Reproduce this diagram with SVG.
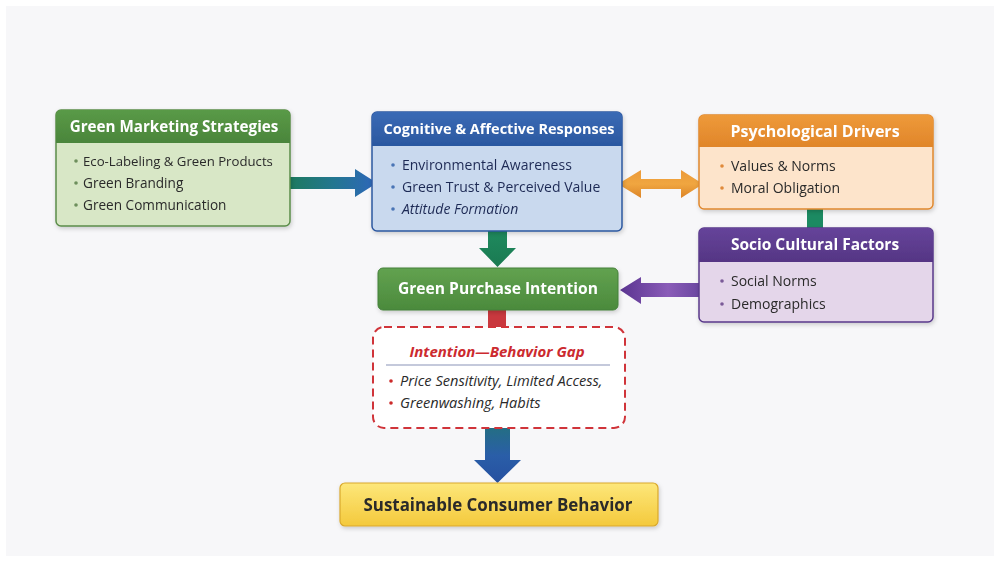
<svg xmlns="http://www.w3.org/2000/svg" width="1000" height="562" viewBox="0 0 1000 562">
  <defs>
    <style>
      .title { font-family: "Open Sans", "Noto Sans", sans-serif; font-weight: 700; font-size: 15px; fill: #ffffff; text-anchor: middle; }
      .item { font-family: "Open Sans", "Noto Sans", sans-serif; font-size: 14px; }
      .dark { fill: #2a2a2a; }
      .navy { fill: #1e2a55; }
      .dot-green { fill: #6d8f5c; }
      .dot-blue { fill: #4a74b5; }
      .dot-orange { fill: #e08a3a; }
      .dot-purple { fill: #7a5a98; }
      .dot-red { fill: #cc2a2a; }
    </style>
    <filter id="shadow" x="-10%" y="-10%" width="120%" height="130%">
      <feDropShadow dx="1" dy="2" stdDeviation="2" flood-color="#000000" flood-opacity="0.18"/>
    </filter>
    <linearGradient id="gHeadGreen" x1="0" y1="0" x2="0" y2="1">
      <stop offset="0" stop-color="#5a9a47"/>
      <stop offset="1" stop-color="#4a853b"/>
    </linearGradient>
    <linearGradient id="gHeadBlue" x1="0" y1="0" x2="0" y2="1">
      <stop offset="0" stop-color="#3a6ab5"/>
      <stop offset="1" stop-color="#2b58a0"/>
    </linearGradient>
    <linearGradient id="gHeadOrange" x1="0" y1="0" x2="0" y2="1">
      <stop offset="0" stop-color="#ee9a3a"/>
      <stop offset="1" stop-color="#e0852a"/>
    </linearGradient>
    <linearGradient id="gHeadPurple" x1="0" y1="0" x2="0" y2="1">
      <stop offset="0" stop-color="#66449a"/>
      <stop offset="1" stop-color="#553584"/>
    </linearGradient>
    <linearGradient id="gPurchase" x1="0" y1="0" x2="0" y2="1">
      <stop offset="0" stop-color="#62a250"/>
      <stop offset="1" stop-color="#4b8a3c"/>
    </linearGradient>
    <linearGradient id="gYellow" x1="0" y1="0" x2="0" y2="1">
      <stop offset="0" stop-color="#fde77a"/>
      <stop offset="1" stop-color="#f4c93c"/>
    </linearGradient>
    <linearGradient id="gArrowTealBlue" x1="290" y1="0" x2="377" y2="0" gradientUnits="userSpaceOnUse">
      <stop offset="0" stop-color="#1d7a5f"/>
      <stop offset="0.5" stop-color="#237690"/>
      <stop offset="1" stop-color="#2e66bb"/>
    </linearGradient>
    <linearGradient id="gArrowOrange" x1="0" y1="170" x2="0" y2="198" gradientUnits="userSpaceOnUse">
      <stop offset="0" stop-color="#ec9a3a"/>
      <stop offset="0.5" stop-color="#f0a640"/>
      <stop offset="1" stop-color="#dc8428"/>
    </linearGradient>
    <linearGradient id="gArrowPurple" x1="620" y1="0" x2="700" y2="0" gradientUnits="userSpaceOnUse">
      <stop offset="0" stop-color="#5a3490"/>
      <stop offset="0.6" stop-color="#8a5cb8"/>
      <stop offset="1" stop-color="#6a46a0"/>
    </linearGradient>
    <linearGradient id="gArrowGreen" x1="0" y1="230" x2="0" y2="267" gradientUnits="userSpaceOnUse">
      <stop offset="0" stop-color="#1f8a5e"/>
      <stop offset="1" stop-color="#1a7a52"/>
    </linearGradient>
    <linearGradient id="gArrowBlueDown" x1="0" y1="428" x2="0" y2="483" gradientUnits="userSpaceOnUse">
      <stop offset="0" stop-color="#246e84"/>
      <stop offset="0.5" stop-color="#2a5ea8"/>
      <stop offset="1" stop-color="#2650a0"/>
    </linearGradient>
  </defs>

  <!-- page background -->
  <rect x="0" y="0" width="1000" height="562" fill="#ffffff"/>
  <rect x="6" y="6" width="988" height="550" fill="#f7f7f9"/>

  <!-- connectors -->
  <g id="connectors">
    <!-- strategies to responses -->
    <path d="M290,177 H355 V169 L377,183 L355,197 V189 H290 Z" fill="url(#gArrowTealBlue)"/>
    <!-- responses <-> psychological drivers -->
    <path d="M618,184 L641,170 V179 H681 V170 L703,184 L681,198 V189 H641 V198 Z" fill="url(#gArrowOrange)"/>
    <!-- responses to purchase intention -->
    <path d="M488,230 H507 V248 H516 L497.5,267 L479,248 H488 Z" fill="url(#gArrowGreen)"/>
    <!-- socio cultural factors to purchase intention -->
    <path d="M700,283 H641 V277 L620,290 L641,304 V297 H700 Z" fill="url(#gArrowPurple)"/>
    <!-- drivers to socio cultural factors -->
    <rect x="807" y="208" width="16" height="20" fill="#1c8a62"/>
    <!-- purchase intention to gap -->
    <rect x="488" y="310" width="18" height="23" fill="#c9383e"/>
    <!-- gap to sustainable behavior -->
    <path d="M485,428 H510 V460 H521 L497.5,483 L474,460 H485 Z" fill="url(#gArrowBlueDown)"/>
  </g>

  <!-- Green Marketing Strategies -->
  <g id="green-marketing" filter="url(#shadow)">
    <rect x="56" y="110" width="234" height="116" rx="5" fill="#d8e7c6" stroke="#5b8d49" stroke-width="1.5"/>
    <path d="M61,110 H285 A5,5 0 0 1 290,115 V143 H56 V115 A5,5 0 0 1 61,110 Z" fill="url(#gHeadGreen)"/>
    <text class="title" x="174" y="132" style="font-size:15.2px">Green Marketing Strategies</text>
    <circle class="dot-green" cx="76" cy="161" r="1.8"/>
    <circle class="dot-green" cx="76" cy="183" r="1.8"/>
    <circle class="dot-green" cx="76" cy="205" r="1.8"/>
    <text class="item dark" x="83" y="166" style="font-size:13.2px">Eco-Labeling &amp; Green Products</text>
    <text class="item dark" x="83" y="188" style="font-size:13.6px">Green Branding</text>
    <text class="item dark" x="83" y="210" style="font-size:13.6px">Green Communication</text>
  </g>

  <!-- Cognitive & Affective Responses -->
  <g id="cognitive-affective" filter="url(#shadow)">
    <rect x="372" y="112" width="250" height="119" rx="5" fill="#c9d9ee" stroke="#2d58a0" stroke-width="1.5"/>
    <path d="M377,112 H617 A5,5 0 0 1 622,117 V146 H372 V117 A5,5 0 0 1 377,112 Z" fill="url(#gHeadBlue)"/>
    <text class="title" x="499" y="134" style="font-size:14.5px">Cognitive &amp; Affective Responses</text>
    <circle class="dot-blue" cx="393" cy="165" r="1.8"/>
    <circle class="dot-blue" cx="393" cy="187" r="1.8"/>
    <circle class="dot-blue" cx="393" cy="209" r="1.8"/>
    <text class="item navy" x="402" y="170">Environmental Awareness</text>
    <text class="item navy" x="402" y="192">Green Trust &amp; Perceived Value</text>
    <text class="item navy" x="402" y="214" font-style="italic">Attitude Formation</text>
  </g>

  <!-- Psychological Drivers -->
  <g id="psychological-drivers" filter="url(#shadow)">
    <rect x="699" y="115" width="234" height="94" rx="5" fill="#fde4cb" stroke="#e0882e" stroke-width="1.5"/>
    <path d="M704,115 H928 A5,5 0 0 1 933,120 V147 H699 V120 A5,5 0 0 1 704,115 Z" fill="url(#gHeadOrange)"/>
    <text class="title" x="815" y="137" style="font-size:16px">Psychological Drivers</text>
    <circle class="dot-orange" cx="722" cy="166" r="1.8"/>
    <circle class="dot-orange" cx="722" cy="188" r="1.8"/>
    <text class="item dark" x="731" y="171">Values &amp; Norms</text>
    <text class="item dark" x="731" y="193">Moral Obligation</text>
  </g>

  <!-- Socio Cultural Factors -->
  <g id="socio-cultural" filter="url(#shadow)">
    <rect x="699" y="228" width="234" height="94" rx="5" fill="#e4d6ea" stroke="#58398a" stroke-width="1.5"/>
    <path d="M704,228 H928 A5,5 0 0 1 933,233 V262 H699 V233 A5,5 0 0 1 704,228 Z" fill="url(#gHeadPurple)"/>
    <text class="title" x="815" y="250" style="font-size:15.5px">Socio Cultural Factors</text>
    <circle class="dot-purple" cx="722" cy="281" r="1.8"/>
    <circle class="dot-purple" cx="722" cy="304" r="1.8"/>
    <text class="item dark" x="731" y="286">Social Norms</text>
    <text class="item dark" x="731" y="309">Demographics</text>
  </g>

  <!-- Green Purchase Intention -->
  <g id="purchase-intention" filter="url(#shadow)">
    <rect x="378" y="268" width="240" height="42" rx="5" fill="url(#gPurchase)" stroke="#44803a" stroke-width="1"/>
    <text class="title" x="498" y="294" style="font-size:15.6px">Green Purchase Intention</text>
  </g>

  <!-- Intention–Behavior Gap -->
  <g id="intention-behavior-gap">
    <rect x="373" y="327" width="252" height="101" rx="11" fill="#ffffff" stroke="#d0343a" stroke-width="2" stroke-dasharray="8,5"/>
    <text x="497" y="357" font-family="'Open Sans', 'Noto Sans', sans-serif" font-size="15" font-weight="700" font-style="italic" fill="#cc2a2f" text-anchor="middle">Intention—Behavior Gap</text>
    <line x1="386" y1="365" x2="610" y2="365" stroke="#8a93b8" stroke-width="1.2"/>
    <circle class="dot-red" cx="391" cy="381" r="1.8"/>
    <circle class="dot-red" cx="391" cy="403" r="1.8"/>
    <text class="item dark" x="400" y="386" style="font-size:14.6px" font-style="italic">Price Sensitivity, Limited Access,</text>
    <text class="item dark" x="400" y="408" style="font-size:14.6px" font-style="italic">Greenwashing, Habits</text>
  </g>

  <!-- Sustainable Consumer Behavior -->
  <g id="sustainable-behavior" filter="url(#shadow)">
    <rect x="340" y="483" width="318" height="43" rx="5" fill="url(#gYellow)" stroke="#d9a82c" stroke-width="1.2"/>
    <text x="498" y="511" font-family="'Open Sans', 'Noto Sans', sans-serif" font-size="16.9" font-weight="700" fill="#2a2a2a" text-anchor="middle">Sustainable Consumer Behavior</text>
  </g>
</svg>
